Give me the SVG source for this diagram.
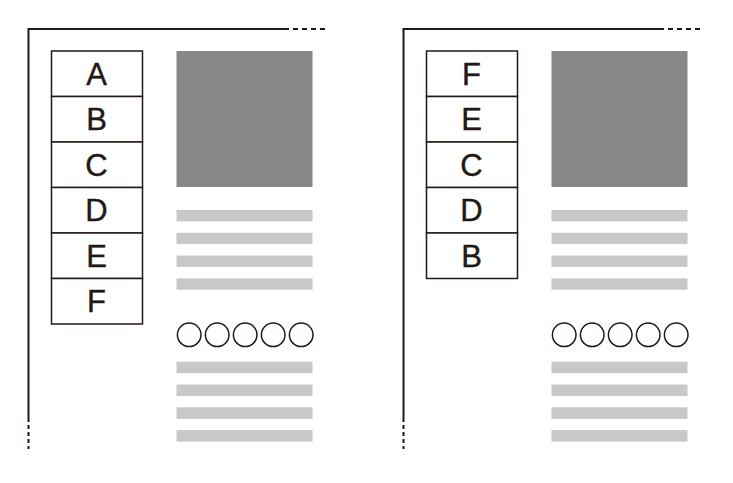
<svg xmlns="http://www.w3.org/2000/svg" width="733" height="483" viewBox="0 0 733 483">
<style>
.frame{fill:none;stroke:#231815;stroke-width:2}
.dash{fill:none;stroke:#231815;stroke-width:2;stroke-dasharray:5 4}
.vdash{fill:none;stroke:#231815;stroke-width:2;stroke-dasharray:4 3}
.cell{fill:#fff;stroke:#231815;stroke-width:1.5}
.lbl{font-family:"Liberation Sans",Arial,sans-serif;font-size:31px;fill:#231815;stroke:#231815;stroke-width:0.4;text-anchor:middle}
.img{fill:#878787}
.bar{fill:#c8c8c8}
.dot{fill:#fff;stroke:#231815;stroke-width:1.5}
</style>
<defs>
<g id="content">
<rect class="img" x="176.5" y="51" width="136" height="136"/>
<rect class="bar" x="176.5" y="210" width="136" height="11.3"/>
<rect class="bar" x="176.5" y="232.8" width="136" height="11.3"/>
<rect class="bar" x="176.5" y="255.6" width="136" height="11.3"/>
<rect class="bar" x="176.5" y="278.4" width="136" height="11.3"/>
<circle class="dot" cx="189.2" cy="334.8" r="11.8"/>
<circle class="dot" cx="217.2" cy="334.8" r="11.8"/>
<circle class="dot" cx="245.2" cy="334.8" r="11.8"/>
<circle class="dot" cx="273.2" cy="334.8" r="11.8"/>
<circle class="dot" cx="301.2" cy="334.8" r="11.8"/>
<rect class="bar" x="176.5" y="361.7" width="136" height="11.5"/>
<rect class="bar" x="176.5" y="384.5" width="136" height="11.5"/>
<rect class="bar" x="176.5" y="407.3" width="136" height="11.5"/>
<rect class="bar" x="176.5" y="430.1" width="136" height="11.5"/>
<path class="frame" d="M28.5 418 V29 H289"/>
<path class="dash" d="M293 29 H326"/>
<path class="vdash" d="M28.5 418 V449"/>
</g>
</defs>
<g id="page-left">
<use href="#content"/>
</g>
<g id="page-right">
<use href="#content" x="375"/>
</g>
<g id="menu-left">
<g id="cellA"><rect class="cell" x="51.5" y="51" width="91" height="45.5"/><text class="lbl" x="96.5" y="84.5">A</text></g>
<g id="cellB"><rect class="cell" x="51.5" y="96.5" width="91" height="45.5"/><text class="lbl" x="96.5" y="130">B</text></g>
<g id="cellC"><rect class="cell" x="51.5" y="142" width="91" height="45.5"/><text class="lbl" x="96.5" y="175.5">C</text></g>
<g id="cellD"><rect class="cell" x="51.5" y="187.5" width="91" height="45.5"/><text class="lbl" x="96.5" y="221">D</text></g>
<g id="cellE"><rect class="cell" x="51.5" y="233" width="91" height="45.5"/><text class="lbl" x="96.5" y="266.5">E</text></g>
<g id="cellF"><rect class="cell" x="51.5" y="278.5" width="91" height="45.5"/><text class="lbl" x="96.5" y="312">F</text></g>
</g>
<g id="menu-right">
<g id="cellF2"><rect class="cell" x="426.5" y="51" width="91" height="45.5"/><text class="lbl" x="471.5" y="84.5">F</text></g>
<g id="cellE2"><rect class="cell" x="426.5" y="96.5" width="91" height="45.5"/><text class="lbl" x="471.5" y="130">E</text></g>
<g id="cellC2"><rect class="cell" x="426.5" y="142" width="91" height="45.5"/><text class="lbl" x="471.5" y="175.5">C</text></g>
<g id="cellD2"><rect class="cell" x="426.5" y="187.5" width="91" height="45.5"/><text class="lbl" x="471.5" y="221">D</text></g>
<g id="cellB2"><rect class="cell" x="426.5" y="233" width="91" height="45.5"/><text class="lbl" x="471.5" y="266.5">B</text></g>
</g>
</svg>
